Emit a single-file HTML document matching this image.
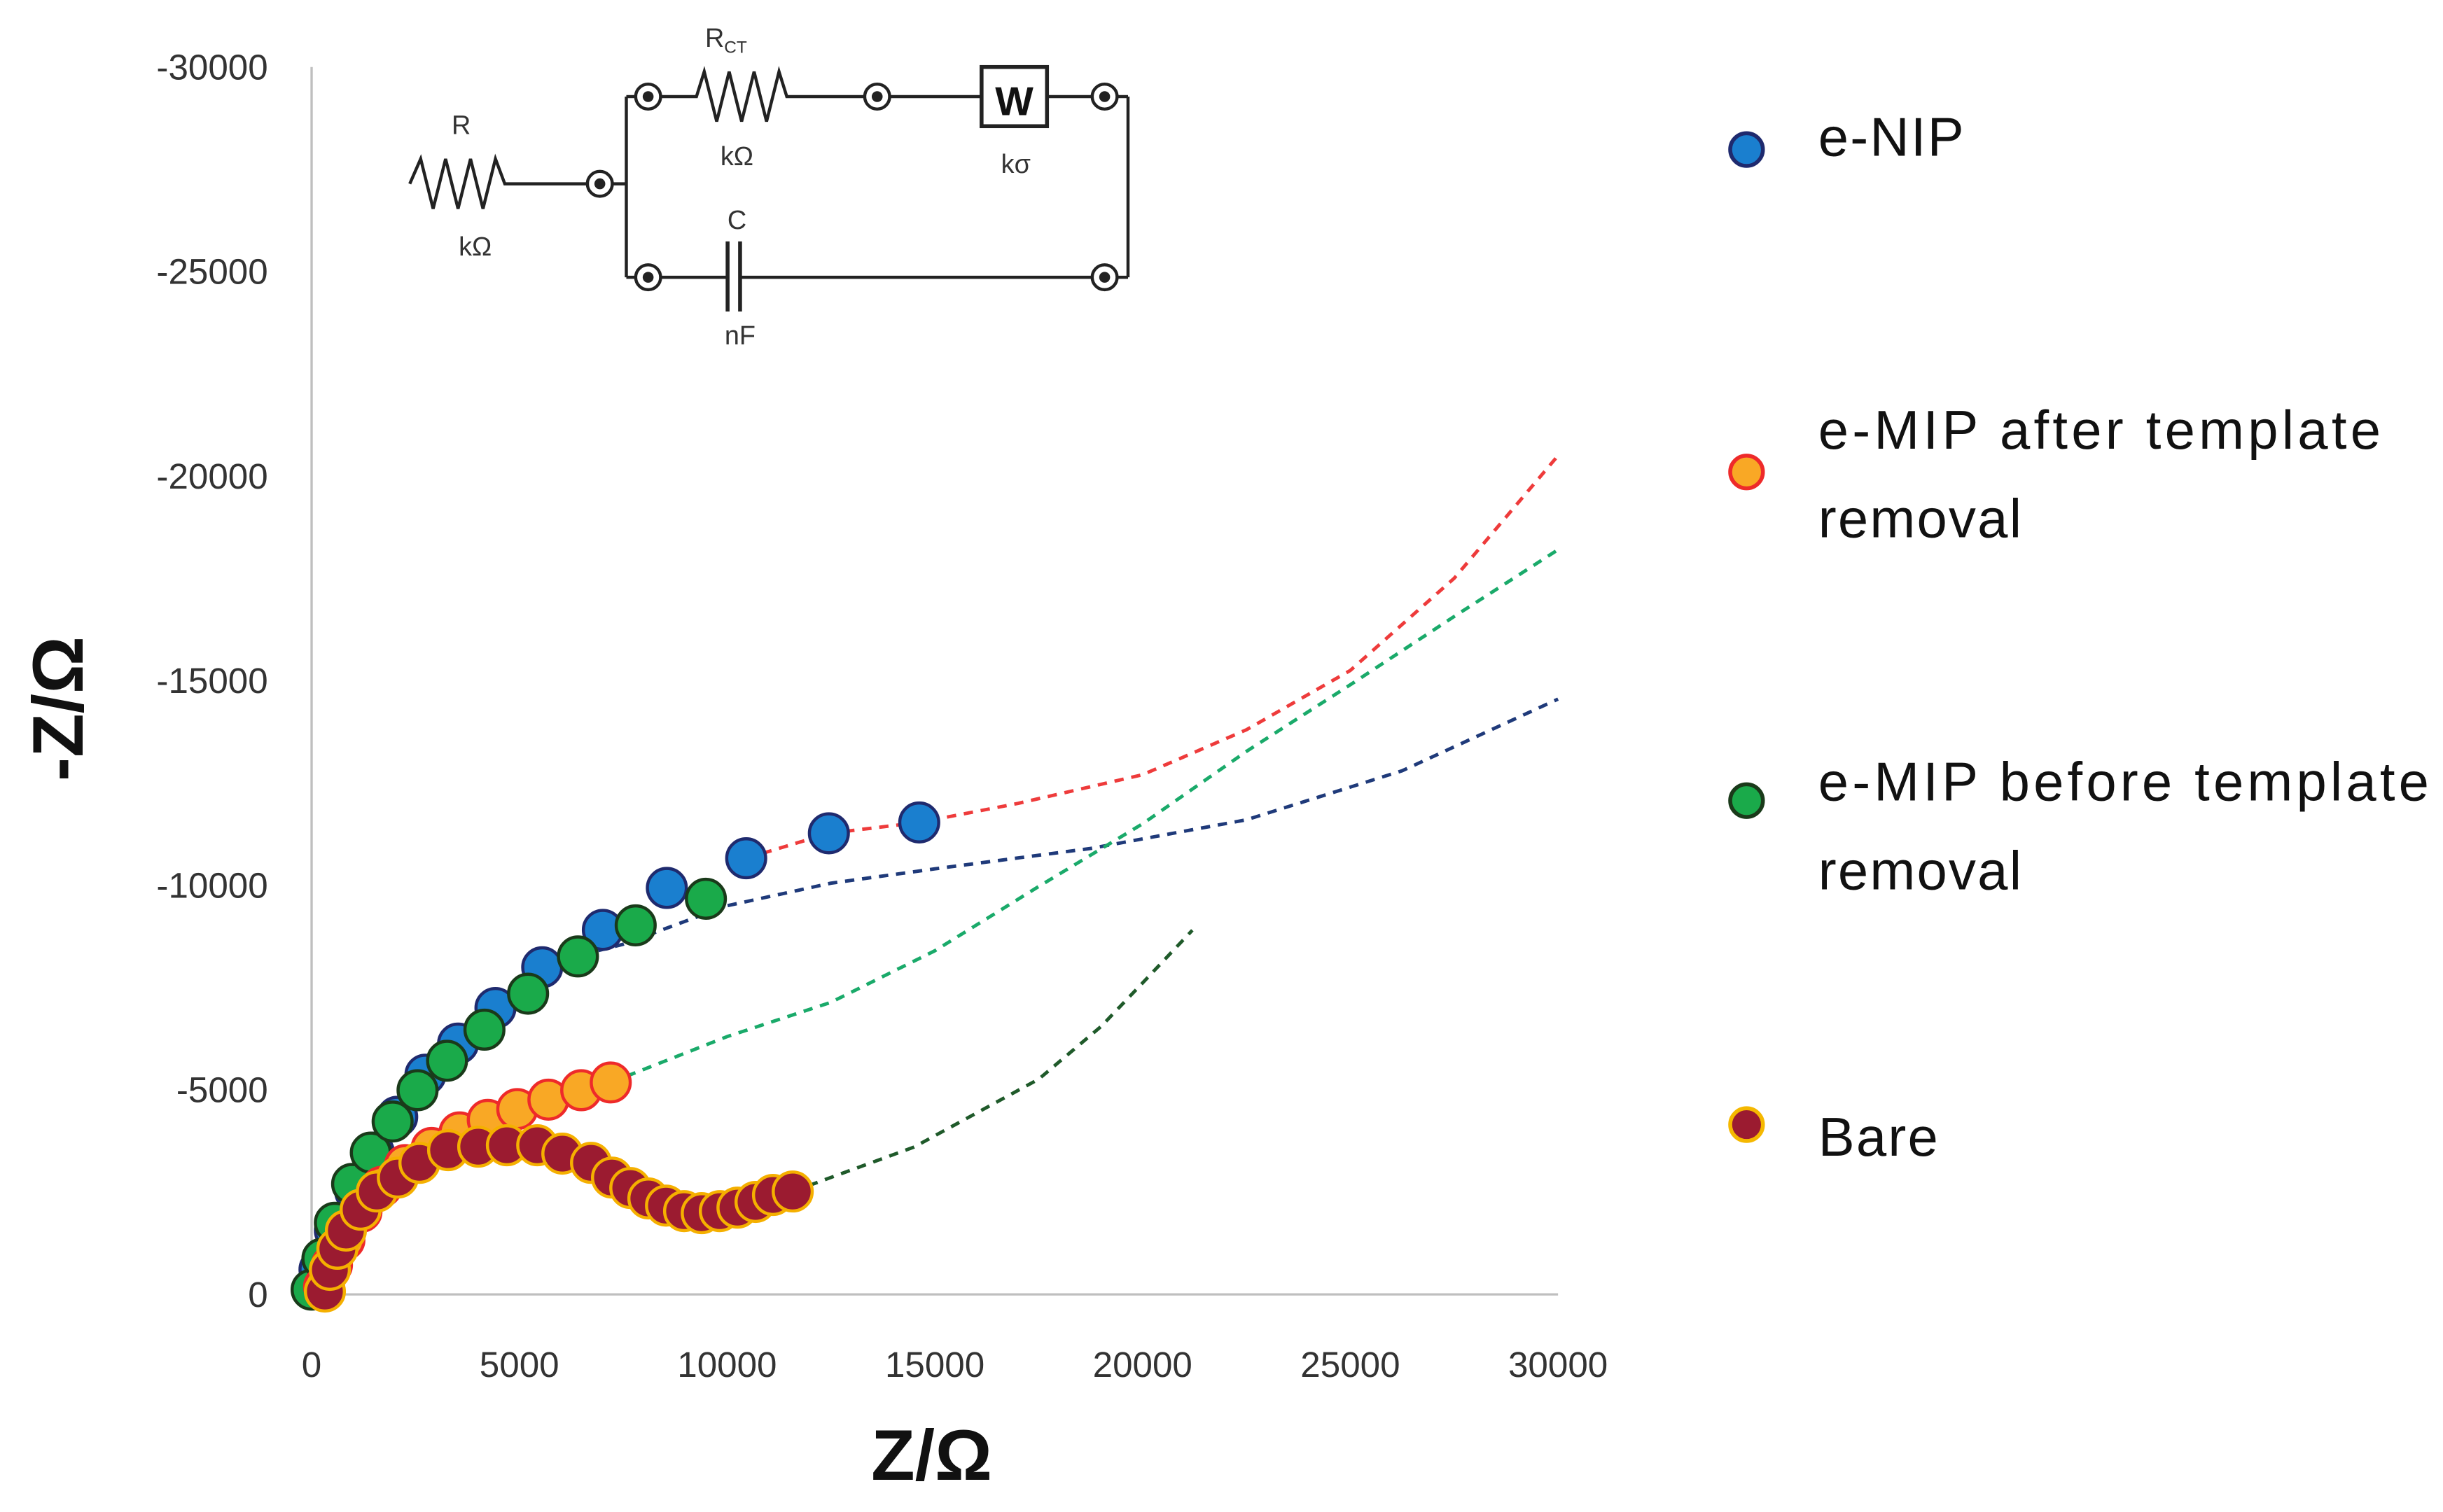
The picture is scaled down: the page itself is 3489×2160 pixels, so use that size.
<!DOCTYPE html>
<html><head><meta charset="utf-8"><style>
html,body{margin:0;padding:0;background:#fff;}
svg{display:block;}
text{font-family:"Liberation Sans",sans-serif;}
</style></head>
<body>
<svg id="chart" width="3489" height="2160" viewBox="0 0 1568 970.7" xmlns="http://www.w3.org/2000/svg">
<rect width="1568" height="971" fill="#fff"/>
<g id="axes"></g>
<g id="lines"></g>
<g id="marks"></g>
<g id="circuit" fill="none" stroke="#222" stroke-width="2">
  <polyline points="263,118 270,102 278,134 286,102 294,134 302,102 310,134 318,102 324,118 345,118 378,118"/>
  <circle cx="385" cy="118" r="8"/><circle cx="385" cy="118" r="2.5" fill="#222"/>
  <line x1="393" y1="118" x2="402" y2="118"/>
  <line x1="402" y1="62" x2="402" y2="178"/>
  <line x1="402" y1="62" x2="408" y2="62"/><line x1="402" y1="178" x2="408" y2="178"/>
  <circle cx="416" cy="62" r="8"/><circle cx="416" cy="62" r="2.5" fill="#222"/>
  <polyline points="424,62 447,62 452,46 460,78 468,46 476,78 484,46 492,78 500,46 505,62 555,62"/>
  <circle cx="563" cy="62" r="8"/><circle cx="563" cy="62" r="2.5" fill="#222"/>
  <line x1="571" y1="62" x2="630" y2="62"/>
  <rect x="630" y="43" width="42" height="38" stroke-width="2.5"/>
  <line x1="672" y1="62" x2="701" y2="62"/>
  <circle cx="709" cy="62" r="8"/><circle cx="709" cy="62" r="2.5" fill="#222"/>
  <line x1="717" y1="62" x2="724" y2="62"/>
  <line x1="724" y1="62" x2="724" y2="178"/>
  <circle cx="416" cy="178" r="8"/><circle cx="416" cy="178" r="2.5" fill="#222"/>
  <line x1="424" y1="178" x2="467" y2="178"/>
  <line x1="467" y1="155" x2="467" y2="200" stroke-width="2.5"/>
  <line x1="475" y1="155" x2="475" y2="200" stroke-width="2.5"/>
  <line x1="475" y1="178" x2="701" y2="178"/>
  <circle cx="709" cy="178" r="8"/><circle cx="709" cy="178" r="2.5" fill="#222"/>
  <line x1="717" y1="178" x2="724" y2="178"/>
  <g stroke="none" fill="#333" font-size="17" text-anchor="middle">
    <text x="296" y="86">R</text>
    <text x="305" y="164">kΩ</text>
    <text x="466" y="30">R<tspan font-size="11" dy="4">CT</tspan></text>
    <text x="473" y="106">kΩ</text>
    <text x="651" y="74" font-size="26" font-weight="bold" fill="#111">W</text>
    <text x="652" y="111">kσ</text>
    <text x="473" y="147">C</text>
    <text x="475" y="221">nF</text>
  </g>
</g>
<g id="legend" font-size="35" fill="#111" letter-spacing="1">
  <g>
    <circle cx="1121" cy="96" r="10.5" fill="#1a7fcf" stroke="#1f2a6e" stroke-width="2.5"/>
    <text x="1167" y="100">e-NIP</text>
  </g>
  <g>
    <circle cx="1121" cy="303" r="10.5" fill="#f9a825" stroke="#ee2a2a" stroke-width="2.5"/>
    <text x="1167" y="288" textLength="362">e-MIP after template</text>
    <text x="1167" y="345">removal</text>
  </g>
  <g>
    <circle cx="1121" cy="514" r="10.5" fill="#1aaa4a" stroke="#1a3a1a" stroke-width="2.5"/>
    <text x="1167" y="514" textLength="393">e-MIP before template</text>
    <text x="1167" y="571">removal</text>
  </g>
  <g>
    <circle cx="1121" cy="722" r="10.5" fill="#9b1b30" stroke="#f5b800" stroke-width="2.5"/>
    <text x="1167" y="742">Bare</text>
  </g>
</g>
</svg>
<script>
// data (Ω)
const xTicks = [0,5000,10000,15000,20000,25000,30000];
const yTicks = [0,5000,10000,15000,20000,25000,30000];
const enipX = [190,560,1050,1500,2060,2740,3525,4425,5550,7010,8550,10460,12450,14625];
const enipY = [610,1560,2510,3465,4340,5370,6130,7000,7995,8910,9935,10660,11270,11535];
const beforeX = [0,260,560,975,1425,1950,2550,3260,4160,5210,6410,7800,9490];
const beforeY = [115,875,1750,2700,3465,4225,4990,5710,6470,7350,8260,9020,9670];
const afterX = [300,490,790,1200,1690,2250,2890,3560,4240,4950,5700,6490,7200];
const afterY = [190,720,1330,2020,2630,3160,3580,3960,4265,4530,4760,4990,5180];
const bareX = [320,440,620,825,1180,1570,2075,2595,3285,4010,4700,5430,6035,6725,7230,7670,8105,8530,8965,9390,9825,10250,10685,11105,11580];
const bareY = [70,600,1115,1560,2070,2515,2855,3215,3525,3610,3645,3645,3440,3215,2855,2600,2345,2170,2035,1985,2035,2120,2260,2430,2515];
const fitRedX = [10460,12450,14625,17000,20000,22500,25000,27500,30000];
const fitRedY = [10660,11270,11535,12000,12700,13800,15250,17500,20500];
const fitNavyX = [6500,7500,10000,12500,15000,18750,22500,26250,30000];
const fitNavyY = [8300,8560,9500,10050,10400,10900,11600,12800,14550];
const fitGreenX = [7200,10000,12500,15000,17500,20000,22500,25000,27500,30000];
const fitGreenY = [5180,6300,7140,8400,9970,11500,13270,14900,16570,18200];
const fitDkGreenX = [11580,14500,17500,19000,20000,21200];
const fitDkGreenY = [2515,3600,5260,6550,7610,8900];

const NS='http://www.w3.org/2000/svg';
const X0=200,X1=1000,Y0=831,Y1=43;
function sx(v){return X0+(v/30000)*(X1-X0);}
function sy(v){return Y0-(v/30000)*(Y0-Y1);}
function mk(tag,attrs,parent){const e=document.createElementNS(NS,tag);for(const k in attrs)e.setAttribute(k,attrs[k]);parent.appendChild(e);return e;}

const axes=document.getElementById('axes');
const ya=mk('line',{x1:X0,y1:Y1,x2:X0,y2:Y0,stroke:'#bfbfbf','stroke-width':1.5},axes);


const xa=mk('line',{x1:X0,y1:Y0,x2:X1,y2:Y0,stroke:'#bfbfbf','stroke-width':1.5},axes);


xTicks.forEach(v=>{
  const t=mk('text',{x:sx(v),y:884,'text-anchor':'middle','font-size':23,fill:'#333'},axes);
  t.textContent=String(v);
  
  
});
yTicks.forEach(v=>{
  const t=mk('text',{x:172,y:sy(v)+8,'text-anchor':'end','font-size':23,fill:'#333'},axes);
  t.textContent=v===0?'0':'-'+v;
  
  
});
const xt=mk('text',{x:598,y:950,'text-anchor':'middle','font-size':46,'font-weight':'bold',fill:'#111'},axes);
xt.textContent='Z/Ω';


const yt=mk('text',{x:0,y:0,'text-anchor':'middle','font-size':46,'font-weight':'bold',fill:'#111',transform:'translate(53,455) rotate(-90)'},axes);
yt.textContent='-Z/Ω';



const lines=document.getElementById('lines');
function fit(xs,ys,color,name){
  const d=xs.map((v,i)=>(i?'L':'M')+sx(v).toFixed(1)+' '+sy(ys[i]).toFixed(1)).join(' ');
  const p=mk('path',{d:d,fill:'none',stroke:color,'stroke-width':2.2,'stroke-dasharray':'6,5','stroke-linejoin':'round'},lines);
  
  
}
fit(fitRedX,fitRedY,'#ee3b3b','fit-line-e-nip');
fit(fitNavyX,fitNavyY,'#1f3a7a','fit-line-e-mip-before');
fit(fitGreenX,fitGreenY,'#1aaa6a','fit-line-e-mip-after');
fit(fitDkGreenX,fitDkGreenY,'#1f5a2a','fit-line-bare');

const marks=document.getElementById('marks');
function pts(xs,ys,fill,stroke,name){
  xs.forEach((v,i)=>{
    const c=mk('circle',{cx:sx(v),cy:sy(ys[i]),r:12.5,fill:fill,stroke:stroke,'stroke-width':2},marks);
    
    
  });
}
pts(enipX,enipY,'#1a7fcf','#1f2a6e','point-e-nip');
pts(beforeX,beforeY,'#1aaa4a','#1a3a1a','point-e-mip-before');
pts(afterX,afterY,'#f9a825','#ee2a2a','point-e-mip-after');
pts(bareX,bareY,'#9b1b30','#f5b000','point-bare');
</script>
</body></html>
